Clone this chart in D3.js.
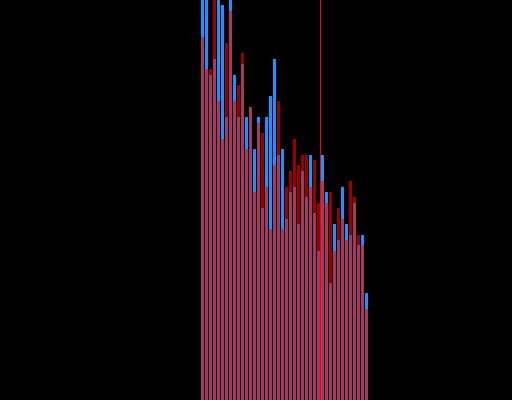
<!DOCTYPE html>
<html>
<head>
<meta charset="utf-8">
<script src="https://cdn.jsdelivr.net/npm/d3@7"></script>
<style>
  html, body { margin: 0; padding: 0; background: #000; overflow: hidden; }
  svg { display: block; }
</style>
</head>
<body>
<script>
(function(){

//bin counts, one per bin (first series drawn opaque, second on top with alpha)
var blueCounts = [80, 78, 61, 64, 77, 74, 53, 82, 61, 53,
                  63, 53, 55, 47, 53, 36, 53, 57, 64, 46,
                  47, 34, 39, 40, 33, 43, 38, 46, 35, 28,
                  46, 39, 22, 33, 30, 40, 33, 31, 37, 29,
                  31, 20];
var redCounts  = [68, 62, 62, 79, 56, 49, 67, 73, 56, 59,
                  65, 47, 55, 39, 52, 50, 40, 32, 44, 56,
                  32, 40, 43, 49, 44, 46, 46, 40, 45, 37,
                  41, 37, 39, 28, 36, 34, 30, 41, 38, 31,
                  29, 17];
//position of the marker line, in bin units
var markerValue = 29.75;

var width = 512,
    height = 400;

var svg = d3.select("body")
  .append("svg")
  .attr("width", width)
  .attr("height", height);

svg.append("rect")
  .attr("width", width)
  .attr("height", height)
  .attr("fill", "#000");

//bins are 4px wide, starting at 201
var x = d3.scaleLinear()
  .domain([0, blueCounts.length])
  .range([201, 201 + 4 * blueCounts.length]);

var y = d3.scaleLinear()
  .domain([0, 75])
  .range([height, 0]);

function drawBars(data, cls, color, opacity){
  svg.selectAll("." + cls)
    .data(data)
    .enter()
    .append("rect")
    .attr("class", cls)
    .attr("x", function(d, i){ return x(i); })
    .attr("width", function(d, i){ return x(i + 1) - x(i) - 1; })
    .attr("y", function(d){ return y(d); })
    .attr("height", function(d){ return height - y(d); })
    .attr("fill", color)
    .attr("fill-opacity", opacity)
    .attr("shape-rendering", "crispEdges");
}

drawBars(blueCounts, "blueBars", "#1e90ff", 1);
drawBars(redCounts, "redBars", "#ff0000", 0.6);

//vertical marker
svg.append("rect")
  .attr("x", x(markerValue))
  .attr("y", 0)
  .attr("width", 1)
  .attr("height", height)
  .attr("fill", "#ff0000")
  .attr("shape-rendering", "crispEdges");

})();
</script>
</body>
</html>
